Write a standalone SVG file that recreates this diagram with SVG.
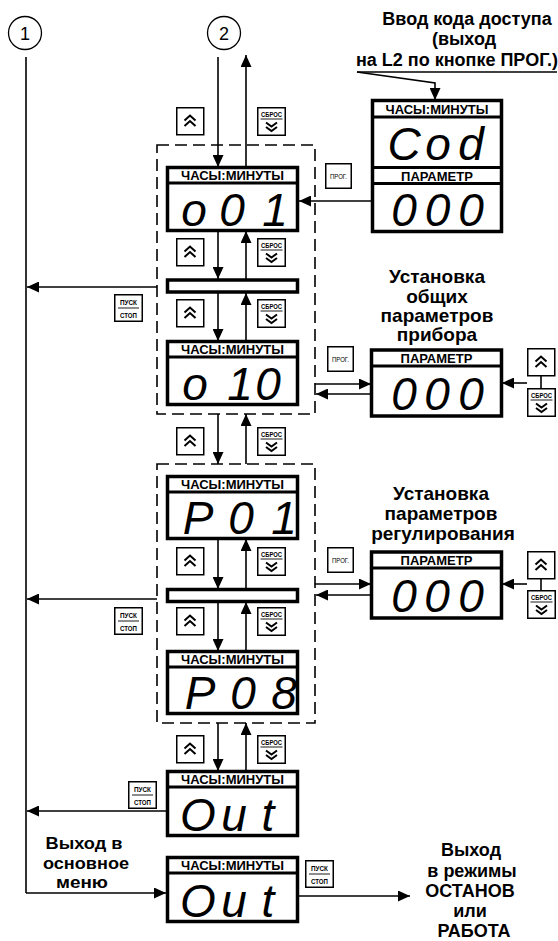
<svg xmlns="http://www.w3.org/2000/svg" width="558" height="941" viewBox="0 0 558 941">
<style>
.ln{fill:none;stroke:#000;stroke-width:1.6}
.ar{fill:none;stroke:#000;stroke-width:1.6;marker-end:url(#ah)}
.box{fill:none;stroke:#000;stroke-width:1.6;stroke-dasharray:12 6}
.frame{fill:#fff;stroke:#000;stroke-width:3.5}
.sep{stroke:#000;stroke-width:3}
.hdr{font-family:"Liberation Sans",Arial,sans-serif;font-weight:bold;font-size:13px;text-anchor:middle}
.seg{font-family:"Liberation Sans",Arial,sans-serif;font-style:italic;font-size:46px;text-anchor:middle}
.lbl{font-family:"Liberation Sans",Arial,sans-serif;font-weight:bold;font-size:18px;text-anchor:middle}
.lbl17{font-family:"Liberation Sans",Arial,sans-serif;font-weight:bold;font-size:17px;text-anchor:middle}
.lbl19{font-family:"Liberation Sans",Arial,sans-serif;font-weight:bold;font-size:19px;text-anchor:middle}
.btn{fill:#fff;stroke:#000;stroke-width:1.5}
.chev{fill:none;stroke:#000;stroke-width:2}
.tiny{font-family:"Liberation Sans",Arial,sans-serif;font-weight:bold;font-size:7px;text-anchor:middle}
.prog{font-family:"Liberation Sans",Arial,sans-serif;font-size:7px;text-anchor:middle}
.circ{fill:#fff;stroke:#000;stroke-width:1.3}
.num{font-family:"Liberation Sans",Arial,sans-serif;font-size:18px;text-anchor:middle}
</style>
<defs>
<marker id="ah" markerUnits="userSpaceOnUse" markerWidth="12" markerHeight="11" refX="12" refY="5.5" orient="auto"><path d="M0,0 L12,5.5 L0,11 z" fill="#000"/></marker>
<g id="bUp"><rect class="btn" x="0.75" y="0.75" width="27" height="27"/><polyline class="chev" points="8.5,13.5 14,8.5 19.5,13.5"/><polyline class="chev" points="8.5,19 14,14 19.5,19"/></g>
<g id="bDn"><rect class="btn" x="0.75" y="0.75" width="27.5" height="27.5"/><line x1="3.5" y1="12" x2="25.5" y2="12" stroke="#000" stroke-width="0.9"/><polyline class="chev" points="9,15.5 14.5,19.5 20,15.5"/><polyline class="chev" points="9,20 14.5,24 20,20"/></g>
<g id="bPusk"><rect class="btn" x="0.75" y="0.75" width="27.5" height="26.5"/><line x1="4" y1="14" x2="25" y2="14" stroke="#000" stroke-width="0.9"/></g>
<g id="bProg"><rect class="btn" x="0.75" y="0.75" width="25.5" height="24.5"/></g>
</defs>

<g id="connectors">
<line class="ln" x1="26" y1="57" x2="26" y2="893"/>
<line class="ar" x1="26" y1="893" x2="166" y2="893"/>
<line class="ar" x1="218" y1="57" x2="218" y2="167"/>
<line class="ar" x1="246" y1="167" x2="246" y2="55"/>
<line class="ar" x1="218" y1="231" x2="218" y2="279"/>
<line class="ar" x1="246" y1="279" x2="246" y2="231"/>
<line class="ar" x1="218" y1="293" x2="218" y2="341"/>
<line class="ar" x1="246" y1="341" x2="246" y2="293"/>
<line class="ar" x1="218" y1="414" x2="218" y2="464"/>
<line class="ar" x1="246" y1="464" x2="246" y2="414"/>
<line class="ar" x1="218" y1="539" x2="218" y2="589"/>
<line class="ar" x1="246" y1="589" x2="246" y2="539"/>
<line class="ar" x1="218" y1="602" x2="218" y2="651"/>
<line class="ar" x1="246" y1="651" x2="246" y2="602"/>
<line class="ar" x1="218" y1="723" x2="218" y2="771"/>
<line class="ar" x1="246" y1="771" x2="246" y2="723"/>
<line class="ar" x1="157" y1="287" x2="27" y2="287"/>
<line class="ar" x1="157" y1="599" x2="27" y2="599"/>
<line class="ar" x1="166" y1="811" x2="27" y2="811"/>
<line class="ar" x1="372" y1="201" x2="299" y2="201"/>
<line class="ar" x1="315" y1="384" x2="371" y2="384"/>
<line class="ar" x1="371" y1="394" x2="316" y2="394"/>
<line class="ar" x1="527" y1="383" x2="502" y2="383"/>
<line class="ln" x1="541" y1="376" x2="541" y2="388"/>
<line class="ar" x1="315" y1="584" x2="371" y2="584"/>
<line class="ar" x1="371" y1="595" x2="316" y2="595"/>
<line class="ar" x1="527" y1="584" x2="502" y2="584"/>
<line class="ln" x1="541" y1="579" x2="541" y2="590"/>
<line class="ar" x1="298" y1="896" x2="410" y2="896"/>
<line class="ln" x1="357" y1="72" x2="557" y2="72"/>
<polyline class="ar" points="357,72 435,83 435,100"/>
</g>

<g id="n-circle1"><circle class="circ" cx="25" cy="33" r="16.5"/><text class="num" x="25" y="39.5">1</text></g>
<g id="n-circle2"><circle class="circ" cx="224" cy="33" r="16.5"/><text class="num" x="224" y="39.5">2</text></g>

<g id="n-box1"><rect class="box" x="157" y="145" width="158" height="269"/></g>
<g id="n-box2"><rect class="box" x="157" y="464" width="158" height="259"/></g>

<g id="n-o01"><rect class="frame" x="167.5" y="167.5" width="130" height="63"/><line class="sep" x1="167" y1="183" x2="298" y2="183"/><text class="hdr" x="232.5" y="180">ЧАСЫ:МИНУТЫ</text><text class="seg" x="194 232 275" y="226">o01</text></g>
<g id="n-bar1"><rect class="frame" x="167.5" y="280" width="130" height="12" stroke-width="3"/></g>
<g id="n-o10"><rect class="frame" x="167.5" y="341.5" width="130" height="63"/><line class="sep" x1="167" y1="357" x2="298" y2="357"/><text class="hdr" x="232.5" y="354">ЧАСЫ:МИНУТЫ</text><text class="seg" x="195 240 268" y="400">o10</text></g>
<g id="n-P01"><rect class="frame" x="167.5" y="476.5" width="130" height="62"/><line class="sep" x1="167" y1="492" x2="298" y2="492"/><text class="hdr" x="232.5" y="489">ЧАСЫ:МИНУТЫ</text><text class="seg" x="198 241 284" y="534">P01</text></g>
<g id="n-bar2"><rect class="frame" x="167.5" y="589.5" width="130" height="12" stroke-width="3"/></g>
<g id="n-P08"><rect class="frame" x="167.5" y="651.5" width="130" height="62"/><line class="sep" x1="167" y1="667" x2="298" y2="667"/><text class="hdr" x="232.5" y="664">ЧАСЫ:МИНУТЫ</text><text class="seg" x="200 243 284" y="709">P08</text></g>
<g id="n-Out1"><rect class="frame" x="167.5" y="771.5" width="130" height="64"/><line class="sep" x1="167" y1="787" x2="298" y2="787"/><text class="hdr" x="232.5" y="784">ЧАСЫ:МИНУТЫ</text><text class="seg" x="198 234 268" y="831">Out</text></g>
<g id="n-Out2"><rect class="frame" x="167.5" y="857.5" width="130" height="64"/><line class="sep" x1="167" y1="873" x2="298" y2="873"/><text class="hdr" x="232.5" y="870">ЧАСЫ:МИНУТЫ</text><text class="seg" x="198 234 268" y="917">Out</text></g>

<g id="n-Cod"><rect class="frame" x="372.5" y="100.5" width="129" height="131"/><line class="sep" x1="372" y1="117" x2="502" y2="117"/><line class="sep" x1="372" y1="167.5" x2="502" y2="167.5"/><line class="sep" x1="372" y1="183.5" x2="502" y2="183.5"/><text class="hdr" x="437" y="114">ЧАСЫ:МИНУТЫ</text><text class="seg" x="404 438 471" y="160">Cod</text><text class="hdr" x="437" y="180.5">ПАРАМЕТР</text><text class="seg" x="404 437.5 471" y="226">000</text></g>
<g id="n-param1"><rect class="frame" x="371.5" y="350" width="130" height="66"/><line class="sep" x1="371" y1="366" x2="502" y2="366"/><text class="hdr" x="436.5" y="362.5">ПАРАМЕТР</text><text class="seg" x="404 437 471" y="410">000</text></g>
<g id="n-param2"><rect class="frame" x="371.5" y="552" width="130" height="66"/><line class="sep" x1="371" y1="568" x2="502" y2="568"/><text class="hdr" x="436.5" y="564.5">ПАРАМЕТР</text><text class="seg" x="404 437 471" y="612">000</text></g>

<g id="buttons">
<use href="#bUp" x="176" y="107"/><use href="#bUp" x="176" y="238"/><use href="#bUp" x="176" y="299"/><use href="#bUp" x="176" y="427"/><use href="#bUp" x="176" y="547"/><use href="#bUp" x="176" y="607"/><use href="#bUp" x="176" y="735"/>
<use href="#bUp" x="527" y="348"/><use href="#bUp" x="527" y="551"/>
<use href="#bDn" x="257" y="107"/><text class="tiny" x="271.5" y="116.5" textLength="21" lengthAdjust="spacingAndGlyphs">СБРОС</text>
<use href="#bDn" x="257" y="238"/><text class="tiny" x="271.5" y="247.5" textLength="21" lengthAdjust="spacingAndGlyphs">СБРОС</text>
<use href="#bDn" x="257" y="299"/><text class="tiny" x="271.5" y="308.5" textLength="21" lengthAdjust="spacingAndGlyphs">СБРОС</text>
<use href="#bDn" x="257" y="427"/><text class="tiny" x="271.5" y="436.5" textLength="21" lengthAdjust="spacingAndGlyphs">СБРОС</text>
<use href="#bDn" x="257" y="547"/><text class="tiny" x="271.5" y="556.5" textLength="21" lengthAdjust="spacingAndGlyphs">СБРОС</text>
<use href="#bDn" x="257" y="607"/><text class="tiny" x="271.5" y="616.5" textLength="21" lengthAdjust="spacingAndGlyphs">СБРОС</text>
<use href="#bDn" x="257" y="735"/><text class="tiny" x="271.5" y="744.5" textLength="21" lengthAdjust="spacingAndGlyphs">СБРОС</text>
<use href="#bDn" x="527" y="388"/><text class="tiny" x="541.5" y="397.5" textLength="21" lengthAdjust="spacingAndGlyphs">СБРОС</text>
<use href="#bDn" x="527" y="590"/><text class="tiny" x="541.5" y="599.5" textLength="21" lengthAdjust="spacingAndGlyphs">СБРОС</text>
<use href="#bPusk" x="114" y="294"/><text class="tiny" x="128.5" y="305" textLength="17" lengthAdjust="spacingAndGlyphs">ПУСК</text><text class="tiny" x="128.5" y="318" textLength="17" lengthAdjust="spacingAndGlyphs">СТОП</text>
<use href="#bPusk" x="114" y="607"/><text class="tiny" x="128.5" y="618" textLength="17" lengthAdjust="spacingAndGlyphs">ПУСК</text><text class="tiny" x="128.5" y="631" textLength="17" lengthAdjust="spacingAndGlyphs">СТОП</text>
<use href="#bPusk" x="128" y="781"/><text class="tiny" x="142.5" y="792" textLength="17" lengthAdjust="spacingAndGlyphs">ПУСК</text><text class="tiny" x="142.5" y="805" textLength="17" lengthAdjust="spacingAndGlyphs">СТОП</text>
<use href="#bPusk" x="305" y="860"/><text class="tiny" x="319.5" y="871" textLength="17" lengthAdjust="spacingAndGlyphs">ПУСК</text><text class="tiny" x="319.5" y="884" textLength="17" lengthAdjust="spacingAndGlyphs">СТОП</text>
<use href="#bProg" x="325" y="163"/><text class="prog" x="338.5" y="178.5" textLength="17" lengthAdjust="spacingAndGlyphs">ПРОГ.</text>
<use href="#bProg" x="327" y="346"/><text class="prog" x="340.5" y="361.5" textLength="17" lengthAdjust="spacingAndGlyphs">ПРОГ.</text>
<use href="#bProg" x="327" y="547"/><text class="prog" x="340.5" y="562.5" textLength="17" lengthAdjust="spacingAndGlyphs">ПРОГ.</text>
</g>

<g id="labels">
<text class="lbl" x="467" y="25">Ввод кода доступа</text>
<text class="lbl" x="464" y="45">(выход</text>
<text class="lbl" x="457" y="66">на L2 по кнопке ПРОГ.)</text>
<text class="lbl19" x="437" y="283">Установка</text>
<text class="lbl19" x="437" y="303">общих</text>
<text class="lbl19" x="437" y="322">параметров</text>
<text class="lbl19" x="437" y="341">прибора</text>
<text class="lbl19" x="441" y="500">Установка</text>
<text class="lbl19" x="441" y="520">параметров</text>
<text class="lbl19" x="443" y="540">регулирования</text>
<text class="lbl17" x="84" y="849" textLength="77" lengthAdjust="spacingAndGlyphs">Выход в</text>
<text class="lbl17" x="86" y="868.5" textLength="86" lengthAdjust="spacingAndGlyphs">основное</text>
<text class="lbl17" x="82" y="888" textLength="52" lengthAdjust="spacingAndGlyphs">меню</text>
<text class="lbl" x="471" y="856">Выход</text>
<text class="lbl" x="472" y="877">в режимы</text>
<text class="lbl" x="470" y="897">ОСТАНОВ</text>
<text class="lbl" x="470" y="917">или</text>
<text class="lbl" x="474" y="937">РАБОТА</text>
</g>
</svg>
